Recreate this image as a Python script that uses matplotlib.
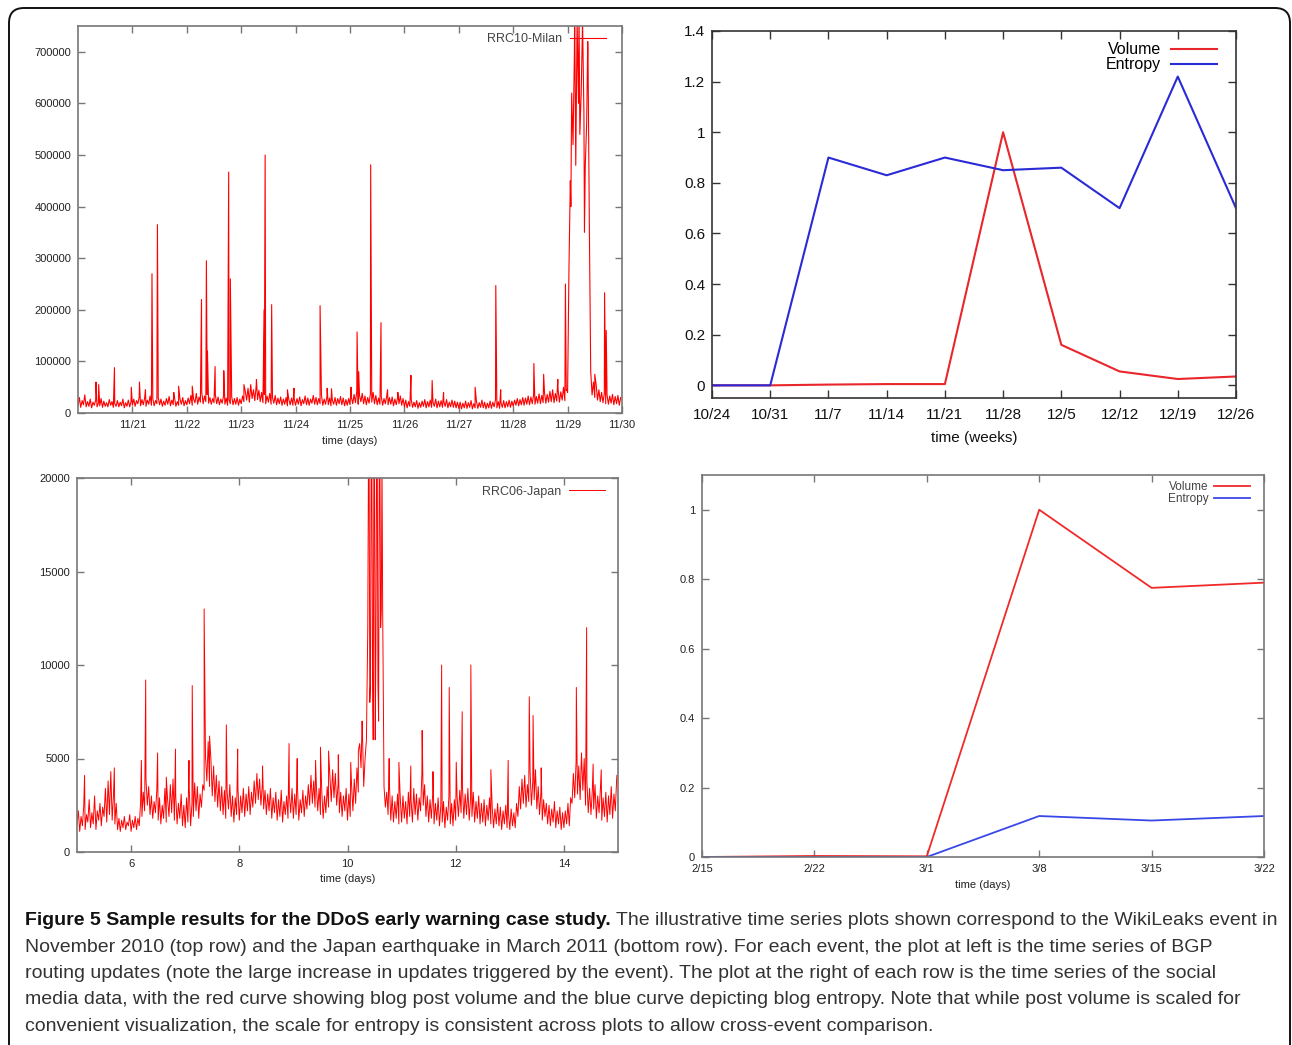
import numpy as np
import matplotlib
matplotlib.use("Agg")
import matplotlib.pyplot as plt
from matplotlib.patches import FancyBboxPatch
from matplotlib.transforms import IdentityTransform

plt.rcParams['font.family'] = ['Liberation Sans', 'DejaVu Sans']

# ---------------- DATA ----------------
# Top-left: RRC10-Milan BGP updates (thousands), baseline sampled every 0.025 day from 11/20
milan_start = 20.0
milan_step = 0.025
milan_base = [
    # 11/20
    14, 30, 11, 24, 16, 35, 12, 22, 13, 27, 10, 21, 15, 25, 12, 19, 14, 28, 11, 23,
    13, 20, 12, 26, 15, 22, 11, 18, 13, 24, 12, 21, 14, 27, 10, 20, 13, 25, 12, 22,
    # 11/21
    15, 27, 13, 24, 18, 31, 14, 26, 16, 29, 13, 25, 17, 33, 15, 28, 14, 24, 18, 30,
    16, 27, 13, 23, 15, 28, 17, 32, 14, 25, 16, 29, 13, 22, 15, 27, 17, 30, 14, 24,
    # 11/22
    16, 29, 18, 34, 15, 27, 20, 38, 17, 31, 21, 40, 18, 33, 22, 36, 19, 30, 17, 28,
    20, 35, 18, 31, 16, 27, 19, 33, 17, 29, 15, 26, 18, 32, 16, 28, 17, 30, 15, 27,
    # 11/23
    18, 33, 22, 42, 25, 48, 21, 55, 28, 45, 24, 52, 26, 44, 22, 40, 20, 36, 18, 33,
    21, 38, 17, 30, 19, 34, 16, 29, 18, 31, 15, 27, 17, 30, 14, 26, 16, 29, 15, 27,
    # 11/24
    15, 28, 17, 31, 14, 26, 18, 33, 16, 29, 15, 27, 19, 34, 17, 30, 16, 28, 18, 35,
    15, 27, 17, 31, 16, 29, 14, 25, 17, 30, 15, 28, 18, 32, 16, 29, 14, 26, 15, 28,
    # 11/25
    16, 31, 18, 36, 20, 42, 17, 34, 22, 38, 18, 33, 16, 30, 19, 37, 21, 40, 18, 34,
    16, 29, 17, 32, 15, 28, 18, 33, 16, 30, 17, 31, 14, 27, 16, 30, 18, 33, 15, 28,
    # 11/26
    12, 25, 10, 22, 13, 27, 11, 21, 12, 24, 9, 20, 11, 23, 13, 26, 10, 22, 12, 25,
    11, 21, 13, 27, 10, 23, 12, 24, 11, 22, 13, 26, 10, 21, 12, 25, 11, 23, 10, 21,
    # 11/27
    9, 21, 8, 19, 10, 23, 9, 20, 11, 24, 8, 18, 10, 22, 9, 20, 11, 25, 10, 21,
    8, 19, 10, 23, 9, 21, 12, 26, 10, 22, 9, 20, 11, 24, 10, 22, 12, 25, 11, 23,
    # 11/28
    13, 25, 15, 28, 14, 26, 16, 30, 15, 29, 17, 33, 16, 31, 18, 35, 17, 32, 19, 37,
    18, 34, 20, 40, 19, 36, 21, 42, 22, 45, 20, 38, 23, 46, 21, 41, 25, 50, 24, 44,
    # 11/29
    40, 280, 450, 620, 520, 700, 480, 760, 600, 540, 620, 760, 580, 480, 560, 700, 360, 80, 35, 60,
    30, 55, 25, 45, 22, 40, 20, 38, 18, 35, 17, 33, 19, 36, 16, 32, 18, 34, 15, 30,
]
milan_spike_day = [
    20.33, 20.38, 20.67, 20.98, 21.13, 21.24, 21.36, 21.46, 21.76, 21.85,
    22.10, 22.27, 22.36, 22.38, 22.52, 22.68, 22.77, 22.80, 23.05, 23.28,
    23.42, 23.44, 23.56, 23.85, 23.97, 24.45, 24.58, 24.66, 25.02, 25.13,
    25.16, 25.38, 25.57, 25.69, 25.88, 26.12, 26.51, 26.72, 27.30, 27.68,
    27.77, 28.38, 28.56, 28.82, 28.96, 28.99, 29.06, 29.13, 29.21, 29.31,
    29.37, 29.50, 29.68, 29.71,
]
milan_spike_k = [
    60, 55, 88, 50, 60, 45, 270, 365, 40, 52,
    52, 220, 295, 120, 90, 82, 467, 260, 55, 65,
    200, 500, 210, 45, 48, 208, 48, 47, 50, 157,
    80, 481, 175, 45, 40, 73, 63, 40, 50, 247,
    45, 96, 75, 65, 250, 45, 400, 780, 780, 350,
    720, 75, 233, 160,
]
milan_ticks = [21, 22, 23, 24, 25, 26, 27, 28, 29, 30]
milan_labels = ["11/21", "11/22", "11/23", "11/24", "11/25", "11/26", "11/27", "11/28", "11/29", "11/30"]
milan_yticks = [0, 100000, 200000, 300000, 400000, 500000, 600000, 700000]

# Top-right: WikiLeaks social media (weekly)
weeks = ["10/24", "10/31", "11/7", "11/14", "11/21", "11/28", "12/5", "12/12", "12/19", "12/26"]
wl_volume = [0.0, 0.0, 0.003, 0.005, 0.005, 1.0, 0.16, 0.055, 0.025, 0.035]
wl_entropy = [0.0, 0.0, 0.90, 0.83, 0.90, 0.85, 0.86, 0.70, 1.22, 0.70]
wl_yticks = [0, 0.2, 0.4, 0.6, 0.8, 1.0, 1.2, 1.4]
wl_ylabels = ["0", "0.2", "0.4", "0.6", "0.8", "1", "1.2", "1.4"]

# Bottom-left: RRC06-Japan BGP updates (thousands), baseline every 0.025 day from day 5
japan_start = 5.0
japan_step = 0.025
japan_base = [
    # day 5
    1.5, 2.2, 1.1, 1.9, 1.4, 2.5, 1.2, 2.0, 1.6, 2.8, 1.3, 2.1, 1.5, 3.0, 1.2, 2.2, 1.7, 2.6, 1.4, 2.4,
    1.9, 3.4, 1.6, 3.8, 2.0, 4.3, 1.7, 3.1, 1.5, 2.6, 1.2, 1.8, 1.1, 1.7, 1.3, 1.9, 1.2, 1.6, 1.4, 2.0,
    # day 6
    1.1, 1.7, 1.3, 1.9, 1.2, 1.8, 1.4, 2.6, 1.9, 3.2, 2.2, 3.9, 2.5, 3.5, 2.0, 3.0, 1.8, 2.7, 2.1, 3.3,
    1.7, 2.9, 1.5, 2.5, 1.8, 3.4, 1.6, 2.8, 1.9, 3.6, 2.1, 3.9, 1.7, 3.0, 1.5, 2.6, 1.8, 3.1, 1.4, 2.5,
    # day 7
    1.3, 2.9, 1.6, 3.4, 1.4, 2.6, 1.9, 3.7, 2.2, 3.5, 1.8, 3.1, 2.4, 3.6, 3.3, 5.1, 3.8, 5.9, 3.5, 5.0,
    3.0, 4.6, 2.7, 4.1, 2.4, 3.8, 2.2, 3.5, 2.0, 3.3, 1.8, 3.2, 2.3, 3.6, 1.9, 3.0, 1.6, 2.9, 2.0, 3.4,
    # day 8
    1.7, 3.0, 2.1, 3.4, 1.9, 3.1, 2.2, 3.5, 2.0, 3.2, 2.4, 3.8, 2.6, 4.2, 2.8, 3.9, 2.5, 3.6, 2.3, 3.3,
    2.0, 3.1, 2.2, 3.4, 1.8, 2.9, 2.1, 3.2, 1.7, 2.8, 1.9, 3.3, 1.6, 2.7, 2.0, 3.0, 1.8, 3.1, 2.1, 3.4,
    # day 9
    1.8, 3.1, 2.0, 3.5, 1.7, 2.8, 2.1, 3.3, 1.9, 3.0, 2.3, 3.6, 2.5, 4.1, 2.6, 3.8, 2.4, 3.5, 2.2, 3.4,
    2.0, 3.2, 1.8, 3.0, 2.1, 3.5, 2.4, 4.0, 2.7, 4.4, 2.9, 4.2, 2.5, 3.6, 2.1, 3.2, 1.9, 3.0, 2.2, 3.4,
    # day 10
    1.7, 3.1, 1.9, 3.6, 2.2, 3.9, 2.6, 4.5, 3.2, 5.8, 4.5, 6.5, 3.5, 5.0, 6.0, 12.0, 20.5, 9.0, 21.0, 6.0,
    20.5, 11.0, 21.0, 7.0, 20.5, 13.0, 13.0, 3.5, 2.4, 3.2, 2.0, 3.6, 1.7, 3.0, 1.6, 2.7, 1.8, 3.1, 1.5, 2.9,
    # day 11
    1.6, 3.0, 1.8, 2.7, 1.5, 3.2, 1.9, 2.8, 1.6, 3.4, 2.0, 3.1, 1.7, 2.9, 2.2, 4.2, 2.5, 3.6, 1.9, 3.0,
    1.6, 2.8, 1.8, 3.1, 1.5, 2.6, 1.7, 2.9, 1.4, 2.5, 1.6, 2.7, 1.3, 2.4, 1.7, 3.0, 1.5, 2.6, 1.4, 2.8,
    # day 12
    1.7, 3.0, 1.9, 3.3, 2.1, 3.5, 1.8, 3.1, 2.0, 3.4, 1.7, 2.9, 1.9, 3.2, 1.6, 2.7, 1.8, 3.0, 1.5, 2.6,
    1.6, 2.8, 1.4, 2.5, 1.7, 2.9, 1.5, 2.4, 1.3, 2.3, 1.5, 2.6, 1.4, 2.4, 1.2, 2.2, 1.5, 2.5, 1.3, 2.1,
    # day 13
    1.2, 2.3, 1.4, 2.1, 1.3, 2.6, 1.9, 3.5, 2.3, 3.9, 2.6, 4.1, 2.4, 3.6, 2.7, 4.3, 2.5, 3.8, 2.8, 4.4,
    2.3, 3.5, 2.0, 3.2, 1.7, 2.8, 1.9, 2.6, 1.5, 2.5, 1.4, 2.3, 1.6, 2.7, 1.3, 2.2, 1.5, 2.4, 1.2, 2.1,
    # day 14
    1.3, 2.2, 1.5, 2.6, 1.4, 2.9, 2.6, 4.2, 2.9, 4.8, 3.1, 4.6, 2.8, 5.3, 3.3, 5.0, 2.5, 3.8, 2.1, 3.4,
    2.0, 3.3, 2.3, 3.6, 1.8, 3.0, 2.1, 3.4, 1.7, 2.9, 1.9, 3.2, 1.6, 3.0, 2.0, 3.5, 1.8, 3.1, 2.2, 3.9,
]
japan_spike_day = [
    5.14, 5.69, 6.19, 6.27, 6.49, 6.65, 6.82, 7.07, 7.13, 7.35,
    7.45, 7.76, 7.97, 8.43, 8.92, 9.07, 9.41, 9.50, 9.65, 9.83,
    10.06, 10.20, 10.27,
    10.3875, 10.4125, 10.4375, 10.4625, 10.4875, 10.5125, 10.5375, 10.5625, 10.5875, 10.6125, 10.6375,
    10.77, 10.95, 11.17, 11.38, 11.58,
    11.74, 11.88, 12.01, 12.12, 12.28, 12.65, 12.97, 13.36, 13.43, 13.58,
    14.23, 14.42, 14.54, 14.69, 14.98,
]
japan_spike_k = [
    4.1, 4.5, 4.9, 9.2, 5.3, 4.0, 5.5, 4.9, 8.9, 13.0,
    6.2, 6.8, 5.5, 4.6, 5.8, 5.0, 4.9, 5.6, 5.4, 5.2,
    4.8, 5.4, 7.0,
    21.0, 8.0, 21.0, 10.0, 21.0, 6.0, 21.0, 9.0, 21.0, 12.0, 21.0,
    5.0, 4.8, 4.6, 6.5, 4.3,
    10.0, 8.8, 4.8, 7.5, 10.0, 4.4, 4.9, 8.3, 7.3, 4.5,
    8.8, 12.0, 4.7, 4.4, 4.1,
]
japan_ticks = [6, 8, 10, 12, 14]
japan_yticks = [0, 5000, 10000, 15000, 20000]

# Bottom-right: Japan earthquake social media (weekly)
jp_weeks = ["2/15", "2/22", "3/1", "3/8", "3/15", "3/22"]
jp_volume = [0.0, 0.003, 0.002, 1.0, 0.775, 0.79]
jp_entropy = [0.0, 0.0, 0.0, 0.118, 0.105, 0.118]
jp_yticks = [0, 0.2, 0.4, 0.6, 0.8, 1.0]
jp_ylabels = ["0", "0.2", "0.4", "0.6", "0.8", "1"]

caption_bold = "Figure 5 Sample results for the DDoS early warning case study."
caption_lines = [
    " The illustrative time series plots shown correspond to the WikiLeaks event in",
    "November 2010 (top row) and the Japan earthquake in March 2011 (bottom row). For each event, the plot at left is the time series of BGP",
    "routing updates (note the large increase in updates triggered by the event). The plot at the right of each row is the time series of the social",
    "media data, with the red curve showing blog post volume and the blue curve depicting blog entropy. Note that while post volume is scaled for",
    "convenient visualization, the scale for entropy is consistent across plots to allow cross-event comparison.",
]

# ---------------- FIGURE ----------------
W, H = 1292, 1045
fig = plt.figure(figsize=(W / 100, H / 100), dpi=100)


def px_axes(l, t, r, b):
    return fig.add_axes([l / W, 1 - b / H, (r - l) / W, (b - t) / H])


def merge(start, step, base, sd, sv):
    bt = start + step * np.arange(len(base))
    t = np.concatenate([bt, np.asarray(sd, float)])
    v = np.concatenate([np.asarray(base, float), np.asarray(sv, float)])
    o = np.argsort(t, kind="stable")
    return t[o], v[o]


def style(ax, fc, fs, tl, lc="#222222"):
    for s in ax.spines.values():
        s.set_color(fc)
        s.set_linewidth(1.2)
    ax.tick_params(direction="in", top=True, right=True, length=tl, width=1.0,
                   color=fc, labelsize=fs, labelcolor=lc, pad=5)


# Top-left
ax1 = px_axes(78, 26, 622, 413)
t, v = merge(milan_start, milan_step, milan_base, milan_spike_day, milan_spike_k)
ax1.plot(t, v * 1000, color="#ff0000", lw=0.8, label="RRC10-Milan")
ax1.set_xlim(20, 30)
ax1.set_ylim(0, 750000)
ax1.set_xticks(milan_ticks)
ax1.set_xticklabels(milan_labels)
ax1.set_yticks(milan_yticks)
ax1.set_yticklabels([str(y) for y in milan_yticks])
style(ax1, "#777777", 8, 5)
ax1.set_xlabel("time (days)", fontsize=8, color="#222222", labelpad=4)
ax1.legend(loc="upper right", frameon=False, fontsize=9, markerfirst=False,
           handlelength=2.9, borderaxespad=0.2, handletextpad=0.6, labelcolor="#444444",
           bbox_to_anchor=(0.985, 1.0))

# Top-right
ax2 = px_axes(712, 31, 1236, 398)
x = np.arange(len(weeks))
ax2.plot(x, wl_volume, color="#e8262c", lw=1.5, label="Volume")
ax2.plot(x, wl_entropy, color="#2a2ad6", lw=1.5, label="Entropy")
ax2.set_xlim(0, len(weeks) - 1)
ax2.set_ylim(-0.05, 1.4)
ax2.set_xticks(x)
ax2.set_xticklabels(weeks)
ax2.set_yticks(wl_yticks)
ax2.set_yticklabels(wl_ylabels)
style(ax2, "#333333", 11, 6, "#111111")
ax2.tick_params(axis="x", pad=7)
ax2.set_xlabel("time (weeks)", fontsize=11, color="#111111", labelpad=7)
ax2.legend(loc="upper right", frameon=False, fontsize=11.5, markerfirst=False,
           handlelength=2.9, borderaxespad=0.2, labelspacing=0.0, handletextpad=0.6,
           borderpad=0.5, bbox_to_anchor=(0.985, 1.0))

# Bottom-left
ax3 = px_axes(77, 478, 618, 852)
t, v = merge(japan_start, japan_step, japan_base, japan_spike_day, japan_spike_k)
ax3.plot(t, v * 1000, color="#ff0000", lw=0.7, label="RRC06-Japan")
ax3.set_xlim(5, 15)
ax3.set_ylim(0, 20000)
ax3.set_xticks(japan_ticks)
ax3.set_yticks(japan_yticks)
ax3.set_yticklabels([str(y) for y in japan_yticks])
style(ax3, "#777777", 8, 5)
ax3.set_xlabel("time (days)", fontsize=8, color="#222222", labelpad=4)
ax3.legend(loc="upper right", frameon=False, fontsize=9, markerfirst=False,
           handlelength=2.9, borderaxespad=0.2, handletextpad=0.6, labelcolor="#444444",
           bbox_to_anchor=(0.99, 1.0))

# Bottom-right
ax4 = px_axes(702, 475, 1264, 857)
x = np.arange(len(jp_weeks))
ax4.plot(x, jp_volume, color="#f02a2a", lw=1.3, label="Volume")
ax4.plot(x, jp_entropy, color="#3a48e8", lw=1.3, label="Entropy")
ax4.set_xlim(0, len(jp_weeks) - 1)
ax4.set_ylim(0, 1.1)
ax4.set_xticks(x)
ax4.set_xticklabels(jp_weeks)
ax4.set_yticks(jp_yticks)
ax4.set_yticklabels(jp_ylabels)
style(ax4, "#777777", 8, 5)
ax4.set_xlabel("time (days)", fontsize=8, color="#222222", labelpad=4)
ax4.legend(loc="upper right", frameon=False, fontsize=8.5, markerfirst=False,
           handlelength=3.0, borderaxespad=0.1, labelspacing=0.0, handletextpad=0.5,
           labelcolor="#444444", bbox_to_anchor=(0.985, 1.0))

# Border
border = FancyBboxPatch((9, -40), 1281, H - 8 + 40, boxstyle="round,pad=0,rounding_size=15",
                        transform=IdentityTransform(), fill=False, edgecolor="#111111", lw=1.4)
fig.patches.append(border)

# Caption
cap_fs = 14
y0 = 925
dy = 26.5
tb = fig.text(25 / W, 1 - y0 / H, caption_bold, fontsize=cap_fs, fontweight="bold",
              color="#111111", va="baseline", ha="left")
r = fig.canvas.get_renderer()
bb = tb.get_window_extent(renderer=r)
fig.text(bb.x1 / W, 1 - y0 / H, caption_lines[0], fontsize=cap_fs, color="#333333",
         va="baseline", ha="left")
for i, line in enumerate(caption_lines[1:], start=1):
    fig.text(25 / W, 1 - (y0 + i * dy) / H, line, fontsize=cap_fs, color="#333333",
             va="baseline", ha="left")

fig.savefig("out.png", dpi=100)
